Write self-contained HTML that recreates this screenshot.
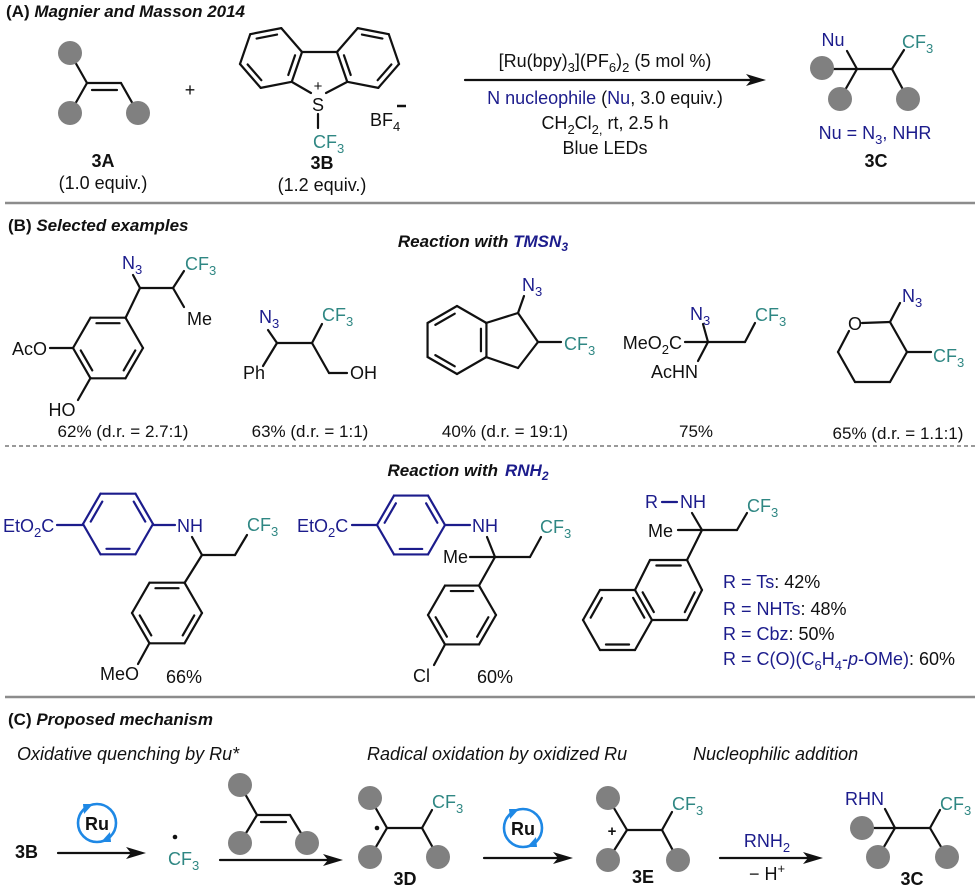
<!DOCTYPE html>
<html><head><meta charset="utf-8">
<style>
html,body{margin:0;padding:0;background:#fff;}
svg{display:block;}
text{font-family:"Liberation Sans",Arial,sans-serif;font-size:18px;fill:#111;}
.b{fill:#1c1c8c;}
.t{fill:#2f8783;}
.bd{font-weight:bold;}
.bi{font-weight:bold;font-style:italic;}
.it{font-style:italic;}
.y{font-size:17px;}
</style></head>
<body>
<svg id="s" width="980" height="890" viewBox="0 0 980 890" xmlns="http://www.w3.org/2000/svg">
<g id="geo"></g>
<g id="balls"></g>
<!-- separators -->
<line x1="5" y1="203" x2="975" y2="203" stroke="#8c8c8c" stroke-width="2.5"/>
<line x1="5" y1="446" x2="975" y2="446" stroke="#999" stroke-width="2" stroke-dasharray="4 3"/>
<line x1="5" y1="697" x2="975" y2="697" stroke="#8c8c8c" stroke-width="2.5"/>

<!-- Section A -->
<text x="6" y="17" class="bd" style="font-size:17px">(A) <tspan class="bi">Magnier and Masson 2014</tspan></text>
<text x="190" y="96" text-anchor="middle">+</text>
<text x="318" y="111" text-anchor="middle">S</text>
<text x="318" y="91" text-anchor="middle" style="font-size:15px">+</text>
<text x="313" y="148" class="t">CF<tspan dy="5" style="font-size:13px">3</tspan></text>
<text x="370" y="126">BF<tspan dy="5" style="font-size:13px">4</tspan></text>
<line x1="397" y1="106" x2="406" y2="106" stroke="#111" stroke-width="2.5"/>
<text x="103" y="167" text-anchor="middle" class="bd">3A</text>
<text x="103" y="189" text-anchor="middle">(1.0 equiv.)</text>
<text x="322" y="169" text-anchor="middle" class="bd">3B</text>
<text x="322" y="191" text-anchor="middle">(1.2 equiv.)</text>

<text x="605" y="67" text-anchor="middle">[Ru(bpy)<tspan dy="5" style="font-size:13px">3</tspan><tspan dy="-5">](PF</tspan><tspan dy="5" style="font-size:13px">6</tspan><tspan dy="-5">)</tspan><tspan dy="5" style="font-size:13px">2</tspan><tspan dy="-5"> (5 mol %)</tspan></text>
<text x="605" y="104" text-anchor="middle"><tspan class="b">N nucleophile</tspan> (<tspan class="b">Nu</tspan>, 3.0 equiv.)</text>
<text x="605" y="129" text-anchor="middle">CH<tspan dy="5" style="font-size:13px">2</tspan><tspan dy="-5">Cl</tspan><tspan dy="5" style="font-size:13px">2,</tspan><tspan dy="-5"> rt, 2.5 h</tspan></text>
<text x="605" y="154" text-anchor="middle">Blue LEDs</text>

<text x="833" y="46" text-anchor="middle" class="b">Nu</text>
<text x="902" y="48" class="t">CF<tspan dy="5" style="font-size:13px">3</tspan></text>
<text x="875" y="139" text-anchor="middle" class="b">Nu = N<tspan dy="5" style="font-size:13px">3</tspan><tspan dy="-5">, NHR</tspan></text>
<text x="876" y="167" text-anchor="middle" class="bd">3C</text>

<!-- Section B -->
<text x="8" y="231" class="bd" style="font-size:17px">(B) <tspan class="bi">Selected examples</tspan></text>
<text x="568" y="247" text-anchor="end" class="bi" style="font-size:17px">Reaction with <tspan class="b">TMSN</tspan><tspan class="b" dy="4" style="font-size:12px">3</tspan></text>

<text x="122" y="269" class="b">N<tspan dy="5" style="font-size:13px">3</tspan></text>
<text x="185" y="270" class="t">CF<tspan dy="5" style="font-size:13px">3</tspan></text>
<text x="187" y="325">Me</text>
<text x="47" y="355" text-anchor="end">AcO</text>
<text x="62" y="416" text-anchor="middle">HO</text>

<text x="259" y="323" class="b">N<tspan dy="5" style="font-size:13px">3</tspan></text>
<text x="322" y="321" class="t">CF<tspan dy="5" style="font-size:13px">3</tspan></text>
<text x="243" y="379">Ph</text>
<text x="350" y="379">OH</text>

<text x="522" y="291" class="b">N<tspan dy="5" style="font-size:13px">3</tspan></text>
<text x="564" y="350" class="t">CF<tspan dy="5" style="font-size:13px">3</tspan></text>

<text x="682" y="349" text-anchor="end">MeO<tspan dy="5" style="font-size:13px">2</tspan><tspan dy="-5">C</tspan></text>
<text x="690" y="320" class="b">N<tspan dy="5" style="font-size:13px">3</tspan></text>
<text x="755" y="321" class="t">CF<tspan dy="5" style="font-size:13px">3</tspan></text>
<text x="698" y="378" text-anchor="end">AcHN</text>

<text x="855" y="330" text-anchor="middle">O</text>
<text x="902" y="302" class="b">N<tspan dy="5" style="font-size:13px">3</tspan></text>
<text x="933" y="362" class="t">CF<tspan dy="5" style="font-size:13px">3</tspan></text>

<text x="123" y="437" text-anchor="middle" class="y">62% (d.r. = 2.7:1)</text>
<text x="310" y="437" text-anchor="middle" class="y">63% (d.r. = 1:1)</text>
<text x="505" y="437" text-anchor="middle" class="y">40% (d.r. = 19:1)</text>
<text x="696" y="437" text-anchor="middle" class="y">75%</text>
<text x="898" y="439" text-anchor="middle" class="y">65% (d.r. = 1.1:1)</text>

<text x="498" y="476" text-anchor="end" class="bi" style="font-size:17px">Reaction with </text>
<text x="505" y="476" class="bi b" style="font-size:17px">RNH<tspan dy="4" style="font-size:12px">2</tspan></text>

<text x="3" y="532" class="b">EtO<tspan dy="5" style="font-size:13px">2</tspan><tspan dy="-5">C</tspan></text>
<text x="177" y="532" class="b">NH</text>
<text x="247" y="531" class="t">CF<tspan dy="5" style="font-size:13px">3</tspan></text>
<text x="100" y="680">MeO</text>
<text x="166" y="683">66%</text>

<text x="297" y="532" class="b">EtO<tspan dy="5" style="font-size:13px">2</tspan><tspan dy="-5">C</tspan></text>
<text x="472" y="532" class="b">NH</text>
<text x="443" y="563">Me</text>
<text x="540" y="533" class="t">CF<tspan dy="5" style="font-size:13px">3</tspan></text>
<text x="413" y="682">Cl</text>
<text x="477" y="683">60%</text>

<text x="645" y="508" class="b">R</text>
<text x="680" y="508" class="b">NH</text>
<text x="648" y="537">Me</text>
<text x="747" y="512" class="t">CF<tspan dy="5" style="font-size:13px">3</tspan></text>
<text x="723" y="588"><tspan class="b">R = Ts</tspan>: 42%</text>
<text x="723" y="615"><tspan class="b">R = NHTs</tspan>: 48%</text>
<text x="723" y="640"><tspan class="b">R = Cbz</tspan>: 50%</text>
<text x="723" y="665"><tspan class="b">R = C(O)(C</tspan><tspan class="b" dy="5" style="font-size:13px">6</tspan><tspan class="b" dy="-5">H</tspan><tspan class="b" dy="5" style="font-size:13px">4</tspan><tspan class="b" dy="-5">-</tspan><tspan class="b it">p</tspan><tspan class="b">-OMe)</tspan>: 60%</text>

<!-- Section C -->
<text x="8" y="725" class="bd" style="font-size:17px">(C) <tspan class="bi">Proposed mechanism</tspan></text>
<text x="17" y="760" class="it">Oxidative quenching by Ru*</text>
<text x="367" y="760" class="it">Radical oxidation by oxidized Ru</text>
<text x="693" y="760" class="it">Nucleophilic addition</text>
<text x="15" y="858" class="bd">3B</text>
<text x="97" y="830" text-anchor="middle" class="bd">Ru</text>
<text x="523" y="835" text-anchor="middle" class="bd">Ru</text>
<text x="168" y="865" class="t">CF<tspan dy="5" style="font-size:13px">3</tspan></text>
<text x="432" y="808" class="t">CF<tspan dy="5" style="font-size:13px">3</tspan></text>
<text x="405" y="885" text-anchor="middle" class="bd">3D</text>
<text x="612" y="836" text-anchor="middle" class="bd" style="font-size:15px">+</text>
<text x="672" y="810" class="t">CF<tspan dy="5" style="font-size:13px">3</tspan></text>
<text x="643" y="883" text-anchor="middle" class="bd">3E</text>
<text x="767" y="847" text-anchor="middle" class="b">RNH<tspan dy="5" style="font-size:13px">2</tspan></text>
<text x="767" y="880" text-anchor="middle">− H<tspan dy="-7" style="font-size:13px">+</tspan></text>
<text x="845" y="805" class="b">RHN</text>
<text x="940" y="810" class="t">CF<tspan dy="5" style="font-size:13px">3</tspan></text>
<text x="912" y="885" text-anchor="middle" class="bd">3C</text>
</svg>
<script>
(function(){
var NS="http://www.w3.org/2000/svg",g=document.getElementById("geo"),gb=document.getElementById("balls");
function el(n,a,p){var e=document.createElementNS(NS,n);for(var k in a)e.setAttribute(k,a[k]);(p||g).appendChild(e);return e;}
function L(x1,y1,x2,y2,c,w){el("line",{x1:x1,y1:y1,x2:x2,y2:y2,stroke:c||"#111","stroke-width":w||2.2,"stroke-linecap":"round"});}
function P(pts,c){for(var i=0;i<pts.length-1;i++)L(pts[i][0],pts[i][1],pts[i+1][0],pts[i+1][1],c);}
function ball(x,y){el("circle",{cx:x,cy:y,r:12,fill:"#808080"},gb);}
function hex(cx,cy,r,a0,dir){var v=[];for(var k=0;k<6;k++){var a=(a0+dir*60*k)*Math.PI/180;v.push([cx+r*Math.cos(a),cy+r*Math.sin(a)]);}return v;}
function ring(v,dbl,c,skip){var cx=0,cy=0;v.forEach(function(p){cx+=p[0];cy+=p[1];});cx/=v.length;cy/=v.length;
 for(var i=0;i<v.length;i++){var a=v[i],b=v[(i+1)%v.length];if(!(skip&&skip.indexOf(i)>=0))L(a[0],a[1],b[0],b[1],c);}
 dbl.forEach(function(i){var a=v[i],b=v[(i+1)%v.length];
  var mx=(a[0]+b[0])/2,my=(a[1]+b[1])/2,dx=cx-mx,dy=cy-my,d=Math.sqrt(dx*dx+dy*dy),o=5.5;
  var ox=dx/d*o,oy=dy/d*o,s=0.17;
  var x1=a[0]+(b[0]-a[0])*s+ox,y1=a[1]+(b[1]-a[1])*s+oy,x2=b[0]-(b[0]-a[0])*s+ox,y2=b[1]-(b[1]-a[1])*s+oy;
  L(x1,y1,x2,y2,c);});}
function arrow(x1,y,x2,c){c=c||"#111";L(x1,y,x2-8,y,c);el("polygon",{points:(x2)+","+y+" "+(x2-20)+","+(y-6)+" "+(x2-15)+","+y+" "+(x2-20)+","+(y+6),fill:c});}
function ruc(cx,cy){el("circle",{cx:cx,cy:cy,r:19,fill:"none",stroke:"#1e88e5","stroke-width":2.6});
 el("polygon",{points:(cx-14)+","+(cy-19)+" "+(cx-4)+","+(cy-19)+" "+(cx-13)+","+(cy-9),fill:"#1e88e5"});
 el("polygon",{points:(cx+14)+","+(cy+19)+" "+(cx+4)+","+(cy+19)+" "+(cx+13)+","+(cy+9),fill:"#1e88e5"});}
var B="#1c1c8c";
ball(70,53);ball(70,113);ball(138,113);
L(70,53,87,83);L(87,83,121,83);L(92,90,117,90);L(87,83,70,113);L(121,83,138,113);
ring(hex(271,58,31.6,-11,1),[0,2,4]);
ring(hex(368,58,31.6,191,-1),[0,2,4]);
L(302,52,337,52);L(292,82,311,93);L(347,82,326,93);L(318,114,318,128);
arrow(465,80,766);
ball(822,68);ball(840,99);ball(908,99);
L(832,69,892,69);L(857,69,847,51);L(857,69,840,99);L(892,69,904,50);L(892,69,908,99);
ring(hex(108,348,35,0,1),[0,2,4]);
L(125.5,318,140,288);L(140,288,173,288);L(140,288,133,275);L(173,288,184,271);L(173,288,184,307);
L(73,348,50,348);L(90.5,378,78,400);
P([[268,330],[277,343],[312,343],[322,324]]);L(277,343,263,366);P([[312,343],[329,373],[347,373]]);
ring(hex(457,340,34,-90,1),[1,3,5]);
P([[486,323],[518,313],[538,342],[518,368],[486,357]]);L(518,313,524,296);L(538,342,561,342);
L(685,342,745,342);L(708,342,703,324);L(745,342,755,323);L(708,342,698,361);
P([[862,323],[890,322],[907,352],[890,382],[855,382],[838,352],[849,331]]);L(890,322,900,303);L(907,352,931,352);
ring(hex(118,524,35,180,1),[0,2,4],B);
L(57,525,83,525,B);L(153,525,175,525,B);
P([[192,537],[202,555],[235,555],[247,535]]);
ring(hex(167,613,35,0,1),[0,2,4]);
L(202,555,184.5,583);L(149.5,643,138,664);
ring(hex(411,525,34,180,1),[0,2,4],B);
L(352,525,377,525,B);L(445,525,470,525,B);
P([[487,537],[495,557],[530,557],[541,537]]);L(495,557,470,557);
ring(hex(462,615,34,0,1),[0,2,4]);
L(495,557,479,585.5);L(445,644.5,434,665);
L(662,502,677,502,B);
P([[692,513],[702,530],[737,530],[747,513]]);L(702,530,678,530);L(702,530,687,560);
var rr=[[687,560],[702,590],[687,620],[652,620],[635,590],[650,560]];
ring(rr,[5,1,3]);
var lr=[[635,590],[652,620],[635,650],[600,650],[583,620],[600,590]];
ring(lr,[0,2,4],null,[0]);
arrow(58,853,146);ruc(97,823);
el("circle",{cx:175,cy:837,r:2.3,fill:"#111"});
arrow(220,860,343);
ball(240,785);ball(240,843);ball(307,843);
L(240,785,257,815);L(257,815,290,815);L(261,822,286,822);L(257,815,240,843);L(290,815,307,843);
ball(370,798);ball(370,857);ball(438,857);
L(370,798,387,828);L(387,828,422,828);L(387,828,370,857);L(422,828,432,810);L(422,828,438,857);
el("circle",{cx:377,cy:828,r:2.3,fill:"#111"});
arrow(484,858,573);ruc(523,828);
ball(608,798);ball(608,860);ball(678,860);
L(608,798,627,830);L(627,830,662,830);L(627,830,608,860);L(662,830,672,812);L(662,830,678,860);
arrow(720,858,823);
ball(862,828);ball(878,857);ball(947,857);
L(862,828,930,828);L(895,828,885,809);L(895,828,878,857);L(930,828,940,810);L(930,828,947,857);
})();
</script>
</body></html>
